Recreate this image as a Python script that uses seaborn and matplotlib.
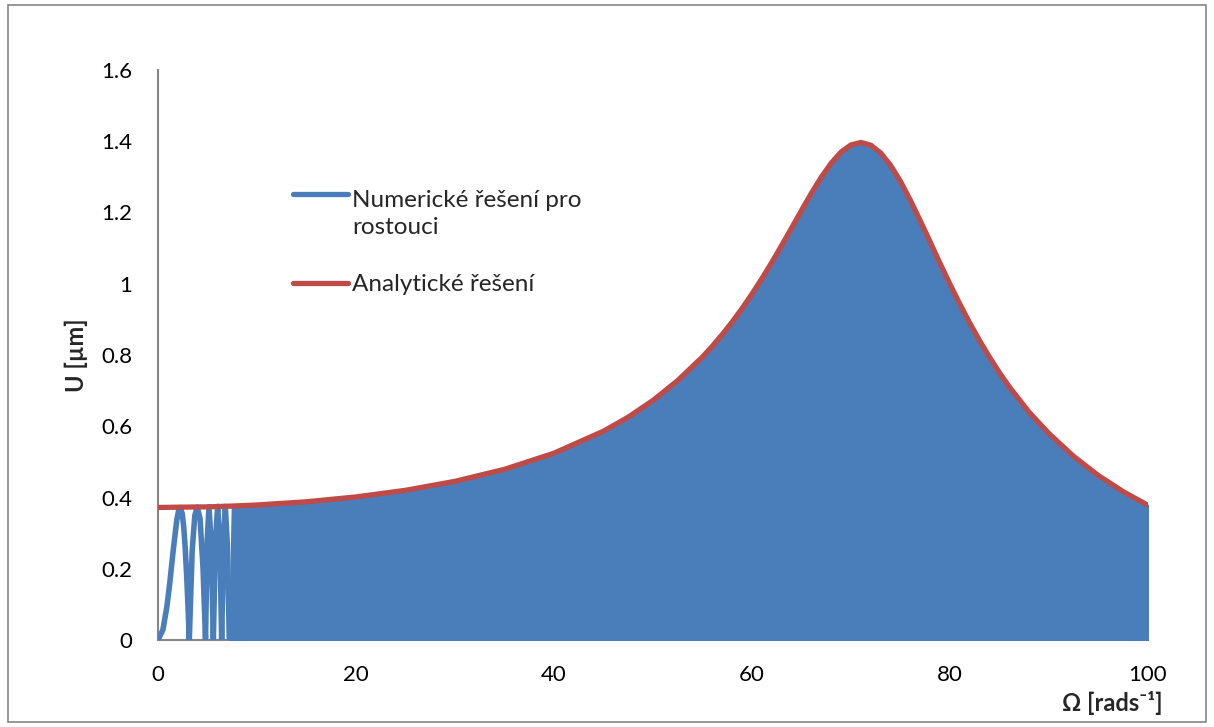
import matplotlib
matplotlib.use("Agg")
import matplotlib.pyplot as plt
from matplotlib.patches import Rectangle
import numpy as np
import pandas as pd
import seaborn as sns

# Analytic amplitude response U(Omega)
omega_env = [0, 2.5, 5, 7.5, 10, 15, 20, 25, 30, 35, 40, 45, 47.5, 50, 52.5,
             55, 56, 57, 58, 59, 60, 61, 62, 63, 64, 65, 66, 67, 68, 69, 70,
             71, 72, 73, 74, 75, 76, 77, 78, 79, 80, 81, 82, 83, 84, 85, 86,
             88, 90, 92.5, 95, 97.5, 100]
u_env = [0.372, 0.373, 0.3737, 0.376, 0.379, 0.388, 0.4016, 0.4202, 0.4454,
         0.4791, 0.5244, 0.5862, 0.6256, 0.6725, 0.7284,
         0.7946, 0.8249, 0.8577, 0.8929, 0.9307, 0.9714, 1.0144, 1.0599, 1.1077,
         1.1565, 1.2058, 1.2542, 1.2991, 1.3385, 1.3698, 1.3897,
         1.3966, 1.3890, 1.3671, 1.3324, 1.2872, 1.2340, 1.1765, 1.1170, 1.0568,
         0.9985, 0.9426, 0.8893, 0.8397, 0.7934, 0.7500, 0.7102,
         0.6390, 0.5793, 0.5152, 0.4614, 0.4163, 0.378]

# Numerical solution for increasing speed: the first resolvable oscillations
omega_num = [0, 0.5, 0.9, 1.2, 1.55, 1.9, 2.1, 2.25, 2.45, 2.6, 2.75, 2.9, 3.05, 3.16,
             3.45, 3.72, 3.97, 4.25, 4.55, 4.8,
             4.97, 5.15, 5.37, 5.59,
             5.8, 6.03, 6.25, 6.43,
             6.62, 6.8, 7.0, 7.2]
u_num = [0, 0.029, 0.094, 0.163, 0.255, 0.337, 0.366, 0.372, 0.354, 0.317, 0.258,
         0.178, 0.081, 0,
         0.25, 0.35, 0.373, 0.34, 0.2, 0,
         0.28, 0.374, 0.27, 0,
         0.28, 0.375, 0.27, 0,
         0.28, 0.375, 0.27, 0]
# beyond this speed the oscillations merge into a solid band under the envelope
omega_band_start = 7.2

x_ticks = [0, 20, 40, 60, 80, 100]
y_ticks = [0, 0.2, 0.4, 0.6, 0.8, 1.0, 1.2, 1.4, 1.6]
y_tick_labels = ["0", "0.2", "0.4", "0.6", "0.8", "1", "1.2", "1.4", "1.6"]

label_numeric = ["Numerické řešení pro", "rostouci"]
label_analytic = "Analytické řešení"
x_label = "Ω [rads⁻¹]"
y_label = "U [µm]"

BLUE = "#4A7EBB"
RED = "#BE4B48"
AXIS_GREY = "#868686"

sns.set_style("white")
plt.rcParams["font.family"] = ["Lato", "DejaVu Sans"]

W, H = 1214, 727
fig = plt.figure(figsize=(W / 100, H / 100), dpi=100)
fig.patch.set_facecolor("white")
ax = fig.add_axes([158 / W, 1 - 640 / H, 990 / W, 570 / H])

df_num = pd.DataFrame({"omega": omega_num, "u": u_num})
df_env = pd.DataFrame({"omega": omega_env, "u": u_env})

# numerical solution: individual humps, then the dense band
sns.lineplot(data=df_num, x="omega", y="u", ax=ax, color=BLUE, lw=4.0,
             estimator=None, sort=False, zorder=3)
env_x = np.array(omega_env)
env_y = np.array(u_env)
mask = env_x > omega_band_start
band_x = np.concatenate([[omega_band_start], env_x[mask]])
band_y = np.concatenate([[0.0], env_y[mask]])
ax.fill_between(band_x, 0, band_y, color=BLUE, lw=1.5, edgecolor=BLUE, zorder=3)

# analytic envelope
sns.lineplot(data=df_env, x="omega", y="u", ax=ax, color=RED, lw=3.8,
             estimator=None, zorder=4)

ax.set_xlim(0, 100)
ax.set_ylim(0, 1.6)
ax.set_xticks(x_ticks)
ax.set_xticklabels([str(v) for v in x_ticks])
ax.set_yticks(y_ticks)
ax.set_yticklabels(y_tick_labels)
ax.set_xlabel("")
ax.set_ylabel("")
ax.tick_params(axis="both", length=0, labelsize=16, colors="black")
ax.tick_params(axis="y", pad=18.5)
ax.tick_params(axis="x", pad=18)

for side in ("top", "right"):
    ax.spines[side].set_visible(False)
for side in ("left", "bottom"):
    ax.spines[side].set_color(AXIS_GREY)
    ax.spines[side].set_linewidth(1.5)
    ax.spines[side].set_zorder(2)

# axis titles
fig.text(1163 / W, 1 - 703 / H, x_label, ha="right", va="center",
         fontsize=17, fontweight="bold")
fig.text(76 / W, 1 - 355 / H, y_label, ha="center", va="center",
         rotation=90, fontsize=17, fontweight="bold")

# legend
def px(x, y):
    return x / W, 1 - y / H

for yc, col in ((194, BLUE), (283, RED)):
    x0, y0 = px(293, yc)
    x1, _ = px(348, yc)
    fig.add_artist(plt.Line2D([x0, x1], [y0, y0], color=col, lw=3.8,
                              solid_capstyle="round"))
fig.text(*px(352, 207), label_numeric[0], ha="left", va="baseline", fontsize=17.5)
fig.text(*px(352, 234), label_numeric[1], ha="left", va="baseline", fontsize=17.5)
fig.text(*px(352, 291), label_analytic, ha="left", va="baseline", fontsize=17.5)

# chart border
fig.patches.append(Rectangle((8 / W, 1 - 722 / H), 1198 / W, 717 / H,
                             transform=fig.transFigure, fill=False,
                             edgecolor=AXIS_GREY, lw=1.2))

fig.savefig("out.png", dpi=100)
